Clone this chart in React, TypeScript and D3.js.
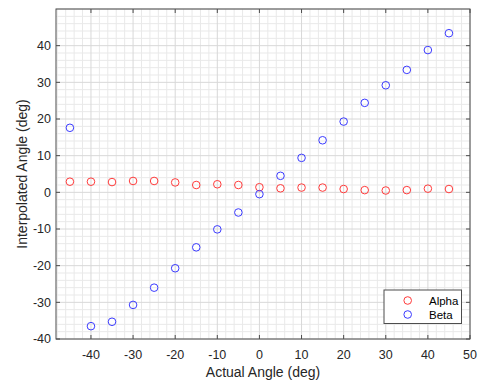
import React, { useEffect, useRef } from "react";
import * as d3 from "d3";

// Actual angles (deg) at which both channels were sampled
const actualAngle = [-45, -40, -35, -30, -25, -20, -15, -10, -5, 0, 5, 10, 15, 20, 25, 30, 35, 40, 45];
// Interpolated alpha angle (deg)
const alphaValues = [2.9, 2.9, 2.8, 3.1, 3.1, 2.7, 2.0, 2.2, 2.0, 1.4, 1.1, 1.3, 1.3, 0.9, 0.6, 0.5, 0.6, 1.0, 0.9];
// Interpolated beta angle (deg)
const betaValues = [17.6, -36.5, -35.3, -30.7, -26.0, -20.7, -15.0, -10.1, -5.5, -0.5, 4.5, 9.4, 14.2, 19.3, 24.4, 29.2, 33.4, 38.8, 43.4];

const xTicks = [-40, -30, -20, -10, 0, 10, 20, 30, 40, 50];
const yTicks = [-40, -30, -20, -10, 0, 10, 20, 30, 40];
const seriesNames = ["Alpha", "Beta"];

const W = 482;
const H = 384;
const FONT = "Arial, 'Liberation Sans', Helvetica, sans-serif";

export default function App() {
  const ref = useRef<SVGSVGElement | null>(null);

  useEffect(() => {
    const svg = d3.select(ref.current);
    svg.selectAll("*").remove();

    const left = 56, right = 470, top = 9, bottom = 339;
    const x = d3.scaleLinear().domain([-48.3, 50]).range([left, right]);
    const y = d3.scaleLinear().domain([-40, 50]).range([bottom, top]);

    svg.append("rect").attr("x", 0).attr("y", 0).attr("width", W).attr("height", H).attr("fill", "#fff");

    const g = svg.append("g");

    // minor grid every 2 deg
    const xMinor = d3.range(-48, 50.01, 2).filter((v) => v % 10 !== 0);
    const yMinor = d3.range(-40, 50.01, 2).filter((v) => v % 10 !== 0);
    g.selectAll(".xmin").data(xMinor).join("line")
      .attr("x1", (d) => x(d)).attr("x2", (d) => x(d)).attr("y1", top).attr("y2", bottom)
      .attr("stroke", "#e9e9e9").attr("stroke-width", 1);
    g.selectAll(".ymin").data(yMinor).join("line")
      .attr("x1", left).attr("x2", right).attr("y1", (d) => y(d)).attr("y2", (d) => y(d))
      .attr("stroke", "#e9e9e9").attr("stroke-width", 1);

    // major grid
    g.selectAll(".xmaj").data(xTicks).join("line")
      .attr("x1", (d) => x(d)).attr("x2", (d) => x(d)).attr("y1", top).attr("y2", bottom)
      .attr("stroke", "#d8d8d8").attr("stroke-width", 1);
    g.selectAll(".ymaj").data(yTicks.concat([50])).join("line")
      .attr("x1", left).attr("x2", right).attr("y1", (d) => y(d)).attr("y2", (d) => y(d))
      .attr("stroke", "#d8d8d8").attr("stroke-width", 1);

    // frame
    const axisColor = "#4d4d4d";
    g.append("rect").attr("x", left).attr("y", top).attr("width", right - left).attr("height", bottom - top)
      .attr("fill", "none").attr("stroke", axisColor).attr("stroke-width", 1);

    // ticks on all four sides, pointing inward
    const tl = 4;
    xTicks.forEach((t) => {
      g.append("line").attr("x1", x(t)).attr("x2", x(t)).attr("y1", bottom).attr("y2", bottom - tl).attr("stroke", axisColor);
      g.append("line").attr("x1", x(t)).attr("x2", x(t)).attr("y1", top).attr("y2", top + tl).attr("stroke", axisColor);
    });
    yTicks.forEach((t) => {
      g.append("line").attr("x1", left).attr("x2", left + tl).attr("y1", y(t)).attr("y2", y(t)).attr("stroke", axisColor);
      g.append("line").attr("x1", right).attr("x2", right - tl).attr("y1", y(t)).attr("y2", y(t)).attr("stroke", axisColor);
    });

    // tick labels
    g.selectAll(".xl").data(xTicks).join("text")
      .attr("x", (d) => x(d)).attr("y", 358.5).attr("text-anchor", "middle")
      .attr("font-family", FONT).attr("font-size", 12.5).attr("fill", "#262626")
      .text((d) => String(d));
    g.selectAll(".yl").data(yTicks).join("text")
      .attr("x", 51).attr("y", (d) => y(d) + 4.4).attr("text-anchor", "end")
      .attr("font-family", FONT).attr("font-size", 12.5).attr("fill", "#262626")
      .text((d) => String(d));

    // axis titles
    g.append("text").attr("x", (left + right) / 2).attr("y", 376.5).attr("text-anchor", "middle")
      .attr("font-family", FONT).attr("font-size", 14).attr("fill", "#262626")
      .text("Actual Angle (deg)");
    g.append("text").attr("transform", `translate(26.5,${(top + bottom) / 2}) rotate(-90)`)
      .attr("text-anchor", "middle")
      .attr("font-family", FONT).attr("font-size", 14).attr("fill", "#262626")
      .text("Interpolated Angle (deg)");

    const colors = ["#ff3b3b", "#3b3bff"];
    const series = [alphaValues, betaValues];
    series.forEach((vals, i) => {
      g.selectAll(`.pt${i}`).data(vals).join("circle")
        .attr("cx", (_d, j) => x(actualAngle[j])).attr("cy", (d) => y(d)).attr("r", 3.8)
        .attr("fill", "none").attr("stroke", colors[i]).attr("stroke-width", 1);
    });

    // legend
    const lg = g.append("g");
    lg.append("rect").attr("x", 384).attr("y", 290).attr("width", 77.5).attr("height", 33.5)
      .attr("fill", "#fff").attr("stroke", axisColor).attr("stroke-width", 1);
    seriesNames.forEach((name, i) => {
      const yy = 300.5 + i * 14;
      lg.append("circle").attr("cx", 407.7).attr("cy", yy).attr("r", 3.8)
        .attr("fill", "none").attr("stroke", colors[i]).attr("stroke-width", 1);
      lg.append("text").attr("x", 429).attr("y", yy + 4).attr("font-family", FONT).attr("font-size", 11.5)
        .attr("fill", "#000").text(name);
    });
  }, []);

  return <svg ref={ref} width={W} height={H} style={{ display: "block", position: "absolute", left: 0, top: 0 }} />;
}
